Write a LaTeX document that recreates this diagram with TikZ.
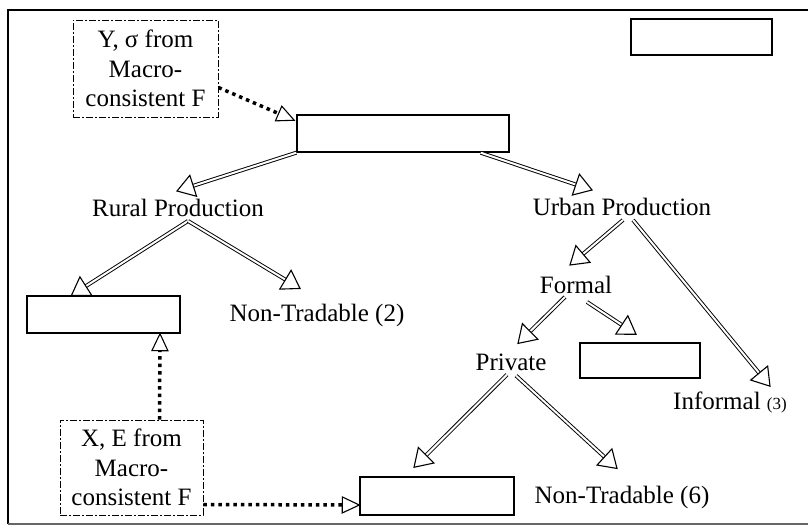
\documentclass[tikz,border=0pt]{standalone}
\usepackage{fontspec}
\setmainfont{Liberation Serif}
\usetikzlibrary{decorations.markings}
\begin{document}
\begin{tikzpicture}[x=1pt,y=-1pt,
  every node/.style={font=\fontsize{25}{28}\selectfont, inner sep=0pt},
  solidbox/.style={draw, line width=1.4pt, fill=white},
  dashbox/.style={draw, line width=0.9pt, dash pattern=on 7pt off 2pt on 2pt off 2pt,
    align=center, font=\fontsize{25}{29.5}\selectfont},
  lbl/.style={},
  % open triangular head of a given length and half width, drawn at the path end
  openhead/.style n args={2}{postaction={decorate, decoration={markings,
    mark=at position 1 with {\draw[line width=1.1pt, fill=white, solid, double=none]
      (0,0) -- (-#1,#2) -- (-#1,-#2) -- cycle;}}}},
  hollow/.style={double, double distance=2pt, line width=0.95pt,
    shorten >=15pt, openhead={17pt}{11pt}},
  dotlink/.style={line width=3.5pt, dash pattern=on 3.5pt off 4pt,
    shorten >=15pt, openhead={17pt}{8pt}}
]
\useasboundingbox (0,0) rectangle (808,530);
% outer frame, running off the right edge
\draw[line width=1.8pt] (8,524) -- (8,10) -- (812,10);
\draw[line width=1.2pt, black!60] (8,524) -- (812,524);

% boxes
\node[dashbox, minimum width=145pt, minimum height=97pt] (ybox) at (145.5,68.5)
  {Y, σ from\\Macro-\\consistent F};
\node[solidbox, minimum width=212pt, minimum height=37pt] (topbox) at (403,133.5) {};
\node[solidbox, minimum width=141pt, minimum height=36pt] (legend) at (701.5,37) {};
\node[solidbox, minimum width=153pt, minimum height=37pt] (tradL) at (103.5,314.5) {};
\node[dashbox, minimum width=143pt, minimum height=95pt] (xbox) at (131.5,467.5)
  {X, E from\\Macro-\\consistent F};
\node[solidbox, minimum width=120pt, minimum height=35pt] (pubbox) at (640,360.5) {};
\node[solidbox, minimum width=154pt, minimum height=38pt] (botbox) at (437,496) {};

% labels
\node[lbl] (rural) at (178,208) {Rural Production};
\node[lbl] (urban) at (622,207) {Urban Production};
\node[lbl] (nt2) at (317,315) {Non-Tradable (2)};
\node[lbl] (formal) at (576,285) {Formal};
\node[lbl] (private) at (511,362) {Private};
\node[lbl] (informal) at (730,403) {Informal {\fontsize{17}{20}\selectfont(3)}};
\node[lbl] (nt6) at (622,497) {Non-Tradable (6)};

% tree branches
\draw[hollow] (topbox.south west) -- ([shift={(-1pt,8pt)}]rural.north);
\draw[hollow] ([xshift=-29pt]topbox.south east) -- ([shift={(-30pt,8pt)}]urban.north);
\draw[hollow] ([shift={(10pt,-4pt)}]rural.south) -- ([xshift=-32pt]tradL.north);
\draw[hollow] ([shift={(10pt,-4pt)}]rural.south) -- ([shift={(-17pt,15pt)}]nt2.north);
\draw[hollow] ([shift={(1pt,-4pt)}]urban.south) -- ([shift={(-6pt,11pt)}]formal.north);
\draw[hollow] ([shift={(11pt,-4pt)}]urban.south) -- ([shift={(40pt,6pt)}]informal.north);
\draw[hollow] ([shift={(-11pt,-3pt)}]formal.south) -- ([shift={(7pt,10pt)}]private.north);
\draw[hollow] ([shift={(11pt,-8pt)}]formal.south) -- ([shift={(-4pt,8pt)}]pubbox.north);
\draw[hollow] ([shift={(-4pt,-4pt)}]private.south) -- ([shift={(-23pt,9pt)}]botbox.north);
\draw[hollow] ([shift={(5pt,-5pt)}]private.south) -- ([shift={(-5pt,17pt)}]nt6.north);

% links from the macro-consistent framework
\draw[dotlink] ([yshift=-19pt]ybox.east) -- ([shift={(-2pt,-6pt)}]topbox.north west);
\draw[dotlink] ([xshift=28pt]xbox.north) -- ([xshift=56.5pt]tradL.south);
\draw[dotlink] ([yshift=-37pt]xbox.east) -- ([yshift=-9pt]botbox.west);
\end{tikzpicture}
\end{document}
